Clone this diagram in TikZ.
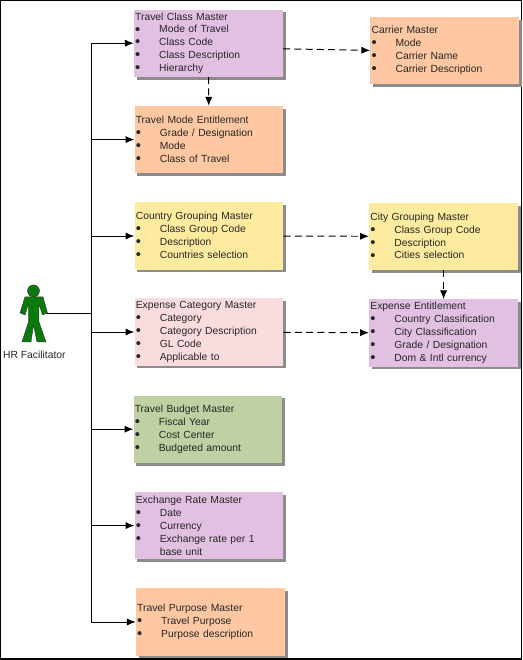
\documentclass[tikz,border=0pt]{standalone}
\usepackage{fontspec}
\setmainfont{Liberation Sans}
\usetikzlibrary{positioning,arrows.meta,shadows}
\definecolor{lilac}{HTML}{E2C0E2}
\definecolor{peach}{HTML}{FFC8A2}
\definecolor{butter}{HTML}{FFEBA0}
\definecolor{blush}{HTML}{FADCDE}
\definecolor{sage}{HTML}{BFD0A2}
\definecolor{actorgreen}{HTML}{0A7A0A}
\newcommand{\bul}[1]{\makebox[0.6cm][l]{\raisebox{-0.8pt}{\fontsize{10.5}{9.2}\selectfont\textbullet}}#1}
\tikzset{
  flowarrow/.style={-{Latex[length=2.2mm,width=1.8mm]}, line width=0.7pt},
  dasharrow/.style={flowarrow, dash pattern=on 5pt off 3pt},
  master/.style={minimum width=3.72cm, minimum height=1.68cm, text width=3.66cm, inner sep=0pt, align=left,
    font=\fontsize{7.35}{9.2}\selectfont, text=black!85,
    drop shadow={shadow xshift=0.7mm, shadow yshift=-0.7mm, opacity=1, fill=black!45}},
  lilacbox/.style={master, fill=lilac},
  peachbox/.style={master, fill=peach},
  butterbox/.style={master, fill=butter},
  blushbox/.style={master, fill=blush},
  sagebox/.style={master, fill=sage}
}
\begin{document}
\begin{tikzpicture}
  \useasboundingbox (0,0) rectangle (13.075,16.5);
  \draw[line width=0.7pt] (0.0125,0.03) rectangle (13.03,16.4875);
  \draw[line width=1.2pt] (0,0.02) -- (13.04,0.02) -- (13.04,16.5);
  % left column
  \node[lilacbox] (classm) at (5.21,15.42) {Travel Class Master\\ \bul{Mode of Travel}\\ \bul{Class Code}\\ \bul{Class Description}\\ \bul{Hierarchy}};
  \node[peachbox] (modeent) at (5.225,13.01) {Travel Mode Entitlement\\ \bul{Grade / Designation}\\ \bul{Mode}\\ \bul{Class of Travel}};
  \node[butterbox] (country) at (5.225,10.6) {Country Grouping Master\\ \bul{Class Group Code}\\ \bul{Description}\\ \bul{Countries selection}};
  \node[blushbox] (expcat) at (5.225,8.2) {Expense Category Master\\ \bul{Category}\\ \bul{Category Description}\\ \bul{GL Code}\\ \bul{Applicable to}};
  \node[sagebox] (budget) at (5.2,5.77) {Travel Budget Master\\ \bul{Fiscal Year}\\ \bul{Cost Center}\\ \bul{Budgeted amount}};
  \node[lilacbox] (exchange) at (5.225,3.36) {Exchange Rate Master\\ \bul{Date}\\ \bul{Currency}\\ \bul{Exchange rate per 1}\\ \makebox[0.6cm]{}base unit};
  \node[peachbox] (purpose) at (5.26,0.95) {Travel Purpose Master\\ \bul{Travel Purpose}\\ \bul{Purpose description}};
  % right column
  \node[peachbox] (carrier) at (11.12,15.24) {Carrier Master\\ \bul{Mode}\\ \bul{Carrier Name}\\ \bul{Carrier Description}};
  \node[butterbox] (city) at (11.09,10.59) {City Grouping Master\\ \bul{Class Group Code}\\ \bul{Description}\\ \bul{Cities selection}};
  \node[lilacbox] (expent) at (11.09,8.175) {Expense Entitlement\\ \bul{Country Classification}\\ \bul{City Classification}\\ \bul{Grade / Designation}\\ \bul{Dom \& Intl currency}};
  % actor
  \coordinate (actor) at (1.175,8.67);
  \coordinate (hub) at (2.28,8.67);
  \begin{scope}[shift={(0,16.5)}, x=0.025cm, y=-0.025cm]
    \filldraw[actorgreen, draw=black!80, line width=0.3pt]
      (25,297) -- (43,297) -- (47.5,313) -- (42.5,315) -- (39,304) -- (39,322) -- (46,342) -- (37,342)
      -- (33.5,325) -- (31,342) -- (22,342) -- (28.5,322) -- (28.5,304) -- (25,315) -- (20,313) -- cycle;
    \filldraw[actorgreen, draw=black!80, line width=0.3pt] (33.5,291) circle (6);
  \end{scope}
  \node[font=\fontsize{7.35}{9}\selectfont, text=black!85, inner sep=0pt] (hrlabel) at (0.86,7.625) {HR Facilitator};
  % connectors
  \draw[line width=0.7pt] (actor) -- (hub);
  \foreach \n in {classm,modeent,country,expcat,budget,exchange,purpose}
    \draw[flowarrow] (hub) |- (\n.west);
  \draw[dasharrow] ([yshift=-0.14cm]classm.east) -- (carrier.west);
  \draw[dasharrow] (country) -- (city);
  \draw[dasharrow] (expcat) -- (expent);
  \draw[dasharrow] (classm) -- (modeent);
  \draw[dasharrow] (city) -- (expent);
\end{tikzpicture}
\end{document}
